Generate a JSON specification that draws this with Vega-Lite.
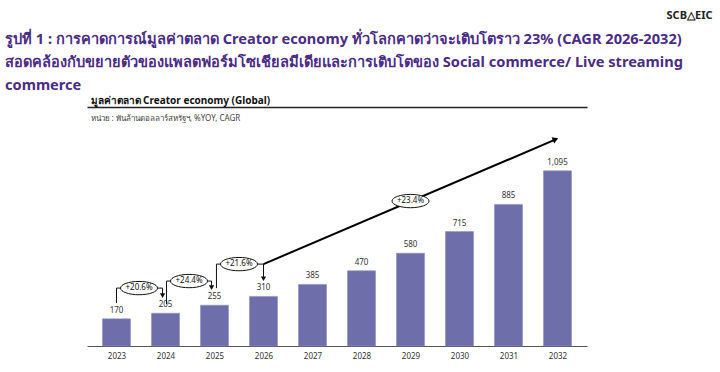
{
  "$schema": "https://vega.github.io/schema/vega-lite/v6.json",
  "autosize": {"type": "none"},
  "width": 500,
  "height": 239,
  "padding": {"left": 87, "top": 107, "right": 133, "bottom": 26},
  "background": "white",
  "config": {"view": {"stroke": null}, "font": "Noto Sans"},
  "title": {
    "text": ["รูปที่ 1 : การคาดการณ์มูลค่าตลาด Creator economy ทั่วโลกคาดว่าจะเติบโตราว 23% (CAGR 2026-2032)", "สอดคล้องกับขยายตัวของแพลตฟอร์มโซเชียลมีเดียและการเติบโตของ Social commerce/ Live streaming", "commerce"],
    "anchor": "start", "frame": "group", "dx": -82, "dy": 88, "fontSize": 14.6, "fontWeight": "bold",
    "color": "#4B2C85", "lineHeight": 23, "offset": 4, "font": "Noto Sans"
  },
  "datasets": {
    "bars": [
      {"year": 2023, "value": 170}, {"year": 2024, "value": 205}, {"year": 2025, "value": 255},
      {"year": 2026, "value": 310}, {"year": 2027, "value": 385}, {"year": 2028, "value": 470},
      {"year": 2029, "value": 580}, {"year": 2030, "value": 715}, {"year": 2031, "value": 885},
      {"year": 2032, "value": 1095}
    ],
    "paths": [
      {"g": "b1", "i": 0, "year": 2023, "value": 269},
      {"g": "b1", "i": 1, "year": 2023, "value": 362},
      {"g": "b1", "i": 2, "year": 2023.94, "value": 362},
      {"g": "b1", "i": 3, "year": 2023.94, "value": 325},
      {"g": "b2", "i": 0, "year": 2024.02, "value": 262},
      {"g": "b2", "i": 1, "year": 2024.02, "value": 406},
      {"g": "b2", "i": 2, "year": 2024.94, "value": 406},
      {"g": "b2", "i": 3, "year": 2024.94, "value": 375},
      {"g": "b3", "i": 0, "year": 2025.04, "value": 362},
      {"g": "b3", "i": 1, "year": 2025.04, "value": 512},
      {"g": "b3", "i": 2, "year": 2026, "value": 512},
      {"g": "b3", "i": 3, "year": 2026, "value": 430}
    ],
    "bigArrow": [
      {"i": 0, "year": 2026, "value": 512},
      {"i": 1, "year": 2031.94, "value": 1288}
    ],
    "heads": [
      {"year": 2023.94, "value": 315},
      {"year": 2024.94, "value": 365},
      {"year": 2026, "value": 420}
    ],
    "bigHead": [{"year": 2031.96, "value": 1292}],
    "ellipses": [
      {"year": 2023.46, "value": 362, "label": "+20.6%"},
      {"year": 2024.48, "value": 406, "label": "+24.4%"},
      {"year": 2025.5, "value": 512, "label": "+21.6%"},
      {"year": 2029, "value": 906, "label": "+23.4%"}
    ]
  },
  "resolve": {"axis": {"x": "independent", "y": "independent"}},
  "layer": [
    {
      "data": {"name": "bars"},
      "mark": {"type": "bar", "width": 28, "color": "#6E6EAA", "stroke": "#8E8EC2", "strokeWidth": 0.6},
      "encoding": {
        "x": {"field": "year", "type": "quantitative",
          "scale": {"domain": [2022.5, 2032.5], "nice": false, "zero": false},
          "axis": {"orient": "bottom", "values": [2023, 2024, 2025, 2026, 2027, 2028, 2029, 2030, 2031, 2032],
            "format": "d", "title": null, "grid": false, "ticks": false, "labelPadding": 6,
            "labelFontSize": 8, "labelColor": "#333", "domainColor": "#555", "domainWidth": 1, "labelFlush": false}},
        "y": {"field": "value", "type": "quantitative",
          "scale": {"domain": [0, 1494], "nice": false},
          "axis": {"orient": "left", "labels": false, "ticks": false, "grid": false, "domain": false,
            "title": "หน่วย : พันล้านดอลลาร์สหรัฐฯ, %YOY, CAGR", "titleAngle": 0, "titleAlign": "left",
            "titleBaseline": "middle", "titleX": 3, "titleY": 11, "titleFontSize": 8, "titleFontWeight": "normal",
            "titleColor": "#444"}}
      }
    },
    {
      "data": {"name": "bars"},
      "mark": {"type": "text", "baseline": "bottom", "dy": -4, "fontSize": 8, "color": "#333"},
      "encoding": {
        "x": {"field": "year", "type": "quantitative",
          "axis": {"orient": "top", "labels": false, "ticks": false, "grid": false, "domain": true,
            "domainColor": "#222", "domainWidth": 1.4,
            "title": "มูลค่าตลาด Creator economy (Global)", "titleAnchor": "start", "titleAlign": "left",
            "titleFontSize": 10, "titleFontWeight": "bold", "titleColor": "#111", "titlePadding": 2, "titleX": 3}},
        "y": {"field": "value", "type": "quantitative",
          "axis": {"orient": "right", "labels": false, "ticks": false, "grid": false, "domain": false,
            "title": "SCB△EIC", "titleAngle": 0, "titleAlign": "right", "titleBaseline": "middle",
            "titleX": 125, "titleY": -92, "titleFontSize": 11, "titleFontWeight": "bold", "titleColor": "#222"}},
        "text": {"field": "value", "type": "quantitative", "format": ",d"}
      }
    },
    {
      "data": {"name": "paths"},
      "mark": {"type": "line", "color": "#111", "strokeWidth": 1},
      "encoding": {
        "x": {"field": "year", "type": "quantitative", "axis": null},
        "y": {"field": "value", "type": "quantitative", "axis": null},
        "detail": {"field": "g"},
        "order": {"field": "i"}
      }
    },
    {
      "data": {"name": "bigArrow"},
      "mark": {"type": "line", "color": "#000", "strokeWidth": 2},
      "encoding": {
        "x": {"field": "year", "type": "quantitative", "axis": null},
        "y": {"field": "value", "type": "quantitative", "axis": null},
        "order": {"field": "i"}
      }
    },
    {
      "data": {"name": "heads"},
      "mark": {"type": "point", "shape": "triangle-down", "filled": true, "color": "#111", "size": 28, "opacity": 1},
      "encoding": {
        "x": {"field": "year", "type": "quantitative", "axis": null},
        "y": {"field": "value", "type": "quantitative", "axis": null}
      }
    },
    {
      "data": {"name": "bigHead"},
      "mark": {"type": "point", "shape": "triangle-up", "filled": true, "color": "#000", "size": 45, "angle": 67, "opacity": 1},
      "encoding": {
        "x": {"field": "year", "type": "quantitative", "axis": null},
        "y": {"field": "value", "type": "quantitative", "axis": null}
      }
    },
    {
      "data": {"name": "ellipses"},
      "mark": {"type": "point", "shape": "M-1,0A1,0.36 0 1,1 1,0A1,0.36 0 1,1 -1,0Z", "size": 1369,
        "filled": false, "fill": "white", "fillOpacity": 1, "stroke": "#111", "strokeWidth": 1, "opacity": 1},
      "encoding": {
        "x": {"field": "year", "type": "quantitative", "axis": null},
        "y": {"field": "value", "type": "quantitative", "axis": null}
      }
    },
    {
      "data": {"name": "ellipses"},
      "mark": {"type": "text", "fontSize": 8, "color": "#111", "baseline": "middle"},
      "encoding": {
        "x": {"field": "year", "type": "quantitative", "axis": null},
        "y": {"field": "value", "type": "quantitative", "axis": null},
        "text": {"field": "label"}
      }
    }
  ]
}
